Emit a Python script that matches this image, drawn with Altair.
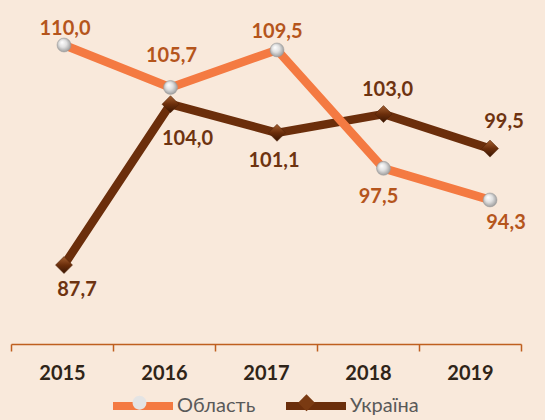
import altair as alt
import pandas as pd

YEARS = ["2015", "2016", "2017", "2018", "2019"]
SERIES = ["Область", "Україна"]
OBLAST = [110.0, 105.7, 109.5, 97.5, 94.3]
UKRAINE = [87.7, 104.0, 101.1, 103.0, 99.5]

rows = []
for s, vals in zip(SERIES, [OBLAST, UKRAINE]):
    for yr, v in zip(YEARS, vals):
        rows.append({"year": yr, "series": s, "value": v})
df = pd.DataFrame(rows)

BG = "#F9E9DB"
ORANGE = "#F47A42"
BROWN = "#6B2E0B"
LBL_OBL = "#B5551C"
LBL_UKR = "#6E3310"
FONT = "Lato"

Y_SCALE = alt.Scale(domain=[79.7, 114.56], nice=False, zero=False)
X_PT = alt.Scale(type="point", domain=YEARS, range=[53, 479], padding=0)

x_pt = alt.X("year:N", sort=YEARS, scale=X_PT, axis=None)
y_enc = alt.Y("value:Q", scale=Y_SCALE, axis=None)

axis_layer = alt.Chart(pd.DataFrame({"year": YEARS})).mark_tick(opacity=0).encode(
    x=alt.X(
        "year:N",
        sort=YEARS,
        scale=alt.Scale(type="band", domain=YEARS, paddingInner=0, paddingOuter=0),
        axis=alt.Axis(
            title=None, tickBand="extent", labelAngle=0, grid=False,
            domainColor="#BF5F1F", domainWidth=1.5, tickColor="#BF5F1F",
            tickWidth=1.5, tickSize=7, labelFont=FONT, labelFontSize=20,
            labelFontWeight="bold", labelColor="#2F2418", labelPadding=12,
        ),
    )
)

LEG_X, LEG_Y = 98, 372
LEG_COMMON = dict(
    orient="none", legendX=LEG_X, legendY=LEG_Y, direction="horizontal",
    title=None, symbolSize=3600, labelFont=FONT, labelFontSize=20,
    labelOffset=0, padding=0,
)

color = alt.Color(
    "series:N",
    scale=alt.Scale(domain=SERIES, range=[ORANGE, BROWN]),
    legend=alt.Legend(symbolType="stroke", symbolStrokeWidth=8,
                      labelColor="#595959", columnPadding=14, **LEG_COMMON),
)

def line_layer(series, width):
    return alt.Chart(df).transform_filter(
        alt.datum.series == series
    ).mark_line(strokeWidth=width, strokeCap="round", strokeJoin="round").encode(
        x=x_pt, y=y_enc, color=color
    )

# marker symbols for the legend (empty layer, explicit domains; a zero-width
# character keeps this legend separate from the line legend)
ZW = "\u200b"
MARKER_DOMAIN = [s + ZW for s in SERIES]
BALL_PATH = "M-0.23,0A0.23,0.23,0,1,1,0.23,0A0.23,0.23,0,1,1,-0.23,0Z"
DIAMOND_PATH = "M0,-0.28L0.28,0L0,0.28L-0.28,0Z"
marker_legend = alt.Legend(symbolStrokeColor="#8A8A8A", symbolStrokeWidth=0.5,
                           labelExpr="''", columnPadding=106, **LEG_COMMON)
legend_markers = alt.Chart(df).transform_calculate(
    marker=f"datum.series + '{ZW}'"
).transform_filter("false").mark_point(filled=True, opacity=1).encode(
    x=x_pt, y=y_enc,
    fill=alt.Fill("marker:N", scale=alt.Scale(domain=MARKER_DOMAIN, range=["#E4E4E4", "#7A3A12"]),
                  legend=marker_legend),
    shape=alt.Shape("marker:N", scale=alt.Scale(domain=MARKER_DOMAIN, range=[BALL_PATH, DIAMOND_PATH]),
                    legend=marker_legend),
)

ball_fill = {
    "gradient": "radial", "x1": 0.35, "y1": 0.3, "r1": 0.0,
    "x2": 0.5, "y2": 0.5, "r2": 0.6,
    "stops": [{"offset": 0, "color": "#FFFFFF"},
              {"offset": 0.45, "color": "#E0E0E0"},
              {"offset": 1, "color": "#8A8A8A"}],
}
diamond_fill = {
    "gradient": "linear", "x1": 0, "y1": 0, "x2": 0, "y2": 1,
    "stops": [{"offset": 0, "color": "#A45F30"},
              {"offset": 0.5, "color": "#6B2E0B"},
              {"offset": 1, "color": "#3A1603"}],
}

balls = alt.Chart(df).transform_filter(alt.datum.series == "Область").mark_point(
    shape="circle", filled=True, fill=ball_fill, size=196, opacity=1,
    stroke="#9A9A9A", strokeWidth=0.5,
).encode(x=x_pt, y=y_enc)

diamonds = alt.Chart(df).transform_filter(alt.datum.series == "Україна").mark_point(
    shape="diamond", filled=True, fill=diamond_fill, size=289, opacity=1,
    stroke="#4A1E05", strokeWidth=0.5,
).encode(x=x_pt, y=y_enc)

# label placement (pixel offsets from each point), per series and year
OFFSETS = {
    "Область": [(1, -16), (1, -31), (0, -18), (-5, 29), (16, 23)],
    "Україна": [(13, 25), (17, 35), (-3, 28), (4, -24), (14, -27)],
}
LABEL_COLORS = {"Область": LBL_OBL, "Україна": LBL_UKR}

labels = []
for s in SERIES:
    for yr, (dx, dy) in zip(YEARS, OFFSETS[s]):
        labels.append(
            alt.Chart(df)
            .transform_filter((alt.datum.series == s) & (alt.datum.year == yr))
            .transform_calculate(lbl="replace(format(datum.value, '.1f'), '.', ',')")
            .mark_text(dx=dx, dy=dy, font=FONT, fontSize=20, fontWeight="bold",
                       color=LABEL_COLORS[s], align="center", baseline="middle")
            .encode(x=x_pt, y=y_enc, text="lbl:N")
        )

chart = alt.layer(
    axis_layer,
    line_layer("Україна", 8.5),
    diamonds,
    line_layer("Область", 8.5),
    balls,
    legend_markers,
    *labels,
).resolve_scale(x="independent").properties(
    width=510, height=344,
    padding={"left": 11, "top": 0, "right": 24, "bottom": 76},
    autosize="none",
    background=BG,
).configure_view(stroke=None)

chart.save("out.html", embed_options={"renderer": "svg", "actions": False})
